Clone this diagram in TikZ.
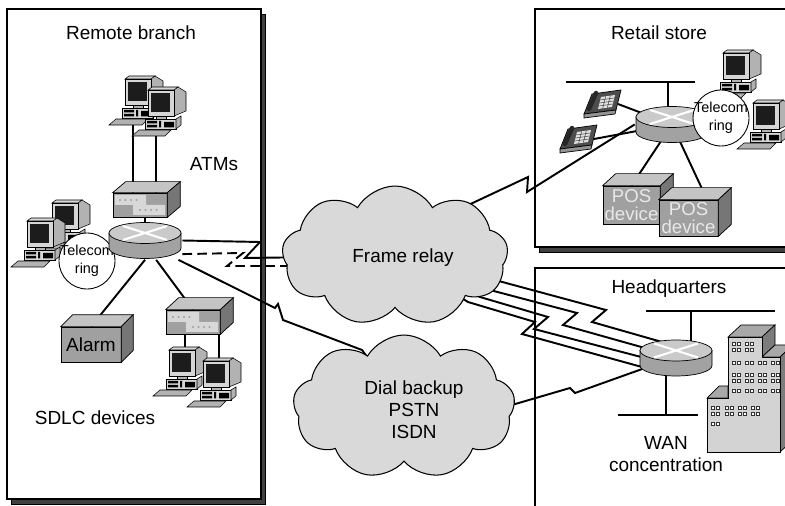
\documentclass[tikz,border=0pt]{standalone}
\usepackage{fontspec}
\setmainfont{Liberation Sans}
\usetikzlibrary{shapes.symbols}

\definecolor{cloudfill}{HTML}{D9D9D9}
\definecolor{shade}{HTML}{404040}
\definecolor{rtrtop}{HTML}{CACACA}
\definecolor{rtrside}{HTML}{A2A2A2}
\definecolor{boxfront}{HTML}{A0A0A0}
\definecolor{boxtop}{HTML}{C4C4C4}
\definecolor{boxside}{HTML}{767676}
\definecolor{mdmpanel}{HTML}{D8D8D8}
\definecolor{pclight}{HTML}{D6D6D6}
\definecolor{pcmid}{HTML}{B2B2B2}
\definecolor{pcscreen}{HTML}{1C1C1C}
\definecolor{phonebody}{HTML}{4D4D4D}
\definecolor{poswhite}{HTML}{E8E8E8}
\definecolor{bldfront}{HTML}{D3D3D3}
\definecolor{bldtop}{HTML}{A8A8A8}
\definecolor{bldside}{HTML}{7C7C7C}

\pgfdeclarelayer{back}
\pgfdeclarelayer{wires}
\pgfsetlayers{back,wires,main}

\tikzset{
  panel/.style      = {draw=black, fill=white, line width=0.6pt},
  panelshade/.style = {fill=shade, draw=black, line width=0.3pt},
  link/.style       = {line width=1.1pt},
  dashlink/.style   = {line width=1.1pt, dash pattern=on 5.5pt off 3pt},
  tap/.style        = {line width=0.6pt},
  lan/.style        = {line width=1.1pt},
  face/.style       = {draw=black, line width=0.4pt},
  dev/.style        = {draw=black, line width=0.3pt, fill=pcmid},
  win/.style        = {draw=black!80, fill=white, line width=0.3pt},
  lbl/.style        = {font=\fontsize{10.8}{12.5}\selectfont, inner sep=0pt, align=center},
  ringlbl/.style    = {font=\fontsize{8.2}{10}\selectfont, inner sep=0pt, align=center},
  wan/.style        = {cloud, cloud puffs=9, cloud puff arc=120, cloud ignores aspect,
                       draw=black, line width=0.6pt, fill=cloudfill, inner sep=0pt},
  ring/.style       = {circle, draw=black, fill=white, line width=0.5pt,
                       minimum size=1.12cm, inner sep=0pt},
  crate/.style      = {face, fill=boxfront, inner sep=0pt, align=center,
                       font=\fontsize{10.6}{10.4}\selectfont},
  modem/.style      = {face, fill=boxfront, inner sep=0pt,
                       minimum width=1.08cm, minimum height=0.48cm,
    path picture={
      \begin{scope}[shift={(path picture bounding box.center)}]
        \fill[mdmpanel] (-25,-10) rectangle (6,0) (-7,0) rectangle (25,10);
        \foreach \i in {0,...,3}
          \fill (-20+5.5*\i,-5) circle[radius=1.2] (0+5.5*\i,5) circle[radius=1.2];
      \end{scope}}},
  rtr/.style        = {minimum width=1.48cm, minimum height=0.76cm, inner sep=0pt,
    path picture={
      \begin{scope}[shift={(path picture bounding box.center)}]
        \filldraw[face, fill=rtrside] (-36,-7.5) -- (-36,7.5)
          arc[start angle=180, end angle=0, x radius=36, y radius=10.5] -- (36,-7.5) -- cycle;
        \filldraw[face, fill=rtrtop] (0,-7.5) ellipse[x radius=36, y radius=10.5];
        \draw[white, line width=1.2pt] (-22,-14.5) -- (22,-0.5) (-22,-0.5) -- (22,-14.5);
      \end{scope}}},
  pics/pc/.style = {code={
    \filldraw[dev] (26,2) -- (30,0) -- (38,5) -- (38,24) -- (26,29) -- cycle;
    \filldraw[dev, fill=pclight] (0,3) -- (4,0) -- (30,0) -- (26,3) -- cycle;
    \filldraw[dev, fill=pclight] (0,3) rectangle (26,29);
    \fill[pcscreen] (3,6) rectangle (22,25);
    \filldraw[dev] (8,29) rectangle (18,32);
    \filldraw[dev, fill=pclight] (-3,32) rectangle (28,42);
    \filldraw[dev] (28,32) -- (33,29) -- (33,38) -- (28,42) -- cycle;
    \fill (-1,34) rectangle (9,36.5) (-1,38) rectangle (9,40.5)
          (11,34) rectangle (13,40.5) (16,35) rectangle (26,40.5);
    \filldraw[dev] (-16,49) -- (-9,43) -- (23,43) -- (17,49) -- cycle;
    \coordinate (-foot) at (8,48);
    \coordinate (-head) at (16,0);
  }},
  pics/phone/.style = {code={
    \filldraw[face, fill=phonebody] (0,26) -- (8,6) -- (37,2) -- (32,22) -- cycle;
    \filldraw[face, fill=phonebody!60!white] (0,26) -- (32,22) -- (31,26) -- (0,30) -- cycle;
    \draw[line width=2.6pt, line cap=round, black!85] (5,21) -- (12,5);
    \fill[black!12] (17,9) -- (31,7) -- (28,19) -- (14,21) -- cycle;
    \draw[phonebody, line width=0.3pt]
      (16.25,12) -- (30.25,10) (15.5,15) -- (29.5,13) (14.75,18) -- (28.75,16)
      (21.67,8.33) -- (18.67,20.33) (26.33,7.67) -- (23.33,19.67);
    \coordinate (-cord) at (34,16);
  }},
}

\newcommand\boxdepth[3]{%
  \filldraw[face, fill=boxtop] (#1.north west) -- ++(#2,#3)
    -- ([shift={(#2,#3)}]#1.north east) -- (#1.north east) -- cycle;
  \filldraw[face, fill=boxside] (#1.north east) -- ++(#2,#3)
    -- ([shift={(#2,#3)}]#1.south east) -- (#1.south east) -- cycle;}

\begin{document}
\begin{tikzpicture}[x=0.02cm, y=-0.02cm]
  \useasboundingbox (0,0) rectangle (785,506);

  \begin{pgfonlayer}{back}
    \filldraw[panelshade] (11,14) rectangle (265,504);
    \filldraw[panel] (7,9) rectangle (261,499);
    \filldraw[panelshade] (539,13) rectangle (800,252);
    \filldraw[panel] (535,9) rectangle (796,247);
    \filldraw[panel] (535,268) rectangle (796,520);
  \end{pgfonlayer}

  % remote branch
  \node[lbl] (branchT) at (131,33) {Remote branch};
  \node[lbl] (atmT) at (214,164) {ATMs};
  \node[lbl] (sdlcT) at (95,418) {SDLC devices};
  \pic (pcA1) at (125,76) {pc};
  \pic (pcA2) at (148,87) {pc};
  \pic (pcL1) at (52,200) {pc};
  \pic (pcL2) at (27,218) {pc};
  \node[ring, label={[ringlbl]center:Telecom\\ring}] (ringL) at (87,261) {};
  \node[modem] (mdmA) at (140,205) {};
  \boxdepth{mdmA}{13}{-11}
  \node[rtr] (rtrL) at (145,240.5) {};
  \node[crate, font=\fontsize{10.8}{12}\selectfont, minimum width=1.2cm, minimum height=0.7cm] (alarm) at (91,344.5) {Alarm};
  \boxdepth{alarm}{12}{-12}
  \node[modem] (mdmS) at (193,322) {};
  \boxdepth{mdmS}{13}{-12}
  \pic (pcS1) at (169,347) {pc};
  \pic (pcS2) at (203,358) {pc};

  % wide area clouds
  \node[wan, minimum width=4.52cm, minimum height=2.8cm] (frcloud) at (395,256) {};
  \node[lbl] (frT) at (403,258) {Frame relay};
  \node[wan, minimum width=4.44cm, minimum height=2.88cm] (dlcloud) at (404,407) {};
  \node[lbl] (dlT) at (414,410) {Dial backup\\PSTN\\ISDN};

  % retail store
  \node[lbl] (retailT) at (659,33) {Retail store};
  \pic (telR1) at (584,88) {phone};
  \pic (telR2) at (560,123) {phone};
  \pic (pcR1) at (723,50) {pc};
  \pic (pcR2) at (753,100) {pc};
  \node[rtr] (rtrR) at (672,124.5) {};
  \node[ring, label={[ringlbl]center:Telecom\\ring}] (ringR) at (721,118) {};
  \node[crate, text=poswhite, minimum width=1.14cm, minimum height=0.76cm] (pos1) at (631.5,205) {POS\\device};
  \boxdepth{pos1}{13}{-12}
  \node[crate, text=poswhite, minimum width=1.18cm, minimum height=0.72cm] (pos2) at (688.5,218) {POS\\device};
  \boxdepth{pos2}{13}{-12}

  % headquarters
  \node[lbl] (hqT) at (669,289) {Headquarters};
  \node[lbl] (wanT) at (666,454) {WAN\\concentration};
  \node[rtr] (rtrH) at (676,358) {};
  \filldraw[face, fill=bldtop] (707,398) -- (719,386) -- (728,386) -- (728,398) -- cycle;
  \filldraw[face, fill=bldtop] (728,337) -- (741,325) -- (775,325) -- (762,337) -- cycle;
  \filldraw[face, fill=bldside] (762,337) -- (775,325) -- (775,345) -- (762,357) -- cycle;
  \filldraw[face, fill=bldtop] (762,357) -- (775,345) -- (793,345) -- (780,357) -- cycle;
  \filldraw[face, fill=bldside] (780,357) -- (793,345) -- (793,440) -- (780,452) -- cycle;
  \filldraw[face, fill=bldfront] (707,452) -- (707,398) -- (728,398) -- (728,337)
    -- (762,337) -- (762,357) -- (780,357) -- (780,452) -- cycle;
  \foreach \wy in {342,348}
    \foreach \wx in {732,737,745,750}
      \draw[win] (\wx,\wy) rectangle ++(3.5,3.5);
  \foreach \wy in {361,373,379,389}
    \foreach \wx in {732,737,745,750,758,763,771,776}
      \draw[win] (\wx,\wy) rectangle ++(3.5,3.5);
  \foreach \wy in {406,412}
    \foreach \wx in {711,716,725,730,738,743,751,756}
      \draw[win] (\wx,\wy) rectangle ++(3.5,3.5);
  \draw[win] (711,422) rectangle ++(3.5,3.5) (716,422) rectangle ++(3.5,3.5);

  \begin{pgfonlayer}{wires}
    \draw[link] (pcA1-foot) -- (pcA1-foot |- mdmA.center);
    \draw[link] (pcA2-foot) -- (pcA2-foot |- mdmA.center);
    \draw[tap] (rtrL.center) -- (rtrL.center |- mdmA.center);
    \draw[link] (rtrL.south) -- (alarm.north);
    \draw[link] (rtrL.-60) -- (mdmS.north);
    \draw[tap] (mdmS.center -| pcS1-head) -- (pcS1-head);
    \draw[tap] (mdmS.center -| pcS2-head) -- (pcS2-head);

    \draw[link] (rtrL.east) -- (260,242) -- (245,258) -- (frcloud.center);
    \draw[dashlink] (rtrL.-20) -- (243,253) -- (227,266) -- (frcloud.center |- 0,266);
    \draw[link] (rtrL.-30) -- (275,308) -- (278,304) -- (283,320) -- (362,350) -- (dlcloud.center);

    \coordinate (lanR-w) at (566,82);
    \coordinate (lanR-e) at (695,82);
    \coordinate (lanR-tap) at (668,82);
    \draw[lan] (lanR-w) -- (lanR-e);
    \draw[lan] (lanR-tap) -- (lanR-tap |- rtrR.center);
    \draw[link] (telR1-cord) -- (rtrR.center);
    \draw[link] (telR2-cord) -- (rtrR.center);
    \draw[link] (rtrR.center) -- (pos1.north);
    \draw[link] (rtrR.center) -- ([shift={(13,-12)}]pos2.north);
    \draw[link] (frcloud.center) -- (462,208) -- (528,177) -- (527,192) -- (rtrR.west);

    \coordinate (lanH-w) at (646,311);
    \coordinate (lanH-e) at (775,311);
    \coordinate (lanH-tap) at (691,311);
    \coordinate (lanW-w) at (618,415);
    \coordinate (lanW-e) at (698,415);
    \coordinate (lanW-tap) at (666,415);
    \draw[lan] (lanH-w) -- (lanH-e);
    \draw[lan] (lanH-tap) -- (lanH-tap |- rtrH.center);
    \draw[lan] (lanW-w) -- (lanW-e);
    \draw[lan] (lanW-tap) -- (lanW-tap |- rtrH.center);
    \draw[link] (frcloud.center) -- (495,280) -- (606,310) -- (592,322) -- (662,342) -- (rtrH.center);
    \draw[link] (frcloud.center) -- (490,290) -- (577,313) -- (563,325) -- (652,350) -- (rtrH.center);
    \draw[link] (frcloud.center) -- (480,297) -- (548,317) -- (534,329) -- (645,358) -- (rtrH.center);
    \draw[link] (frcloud.center) -- (468,302) -- (535,322) -- (522,334) -- (642,367) -- (rtrH.center);
    \draw[link] (dlcloud.center) -- (505,407) -- (570,388) -- (575,393) -- (645,368) -- (rtrH.center);
  \end{pgfonlayer}
\end{tikzpicture}
\end{document}
